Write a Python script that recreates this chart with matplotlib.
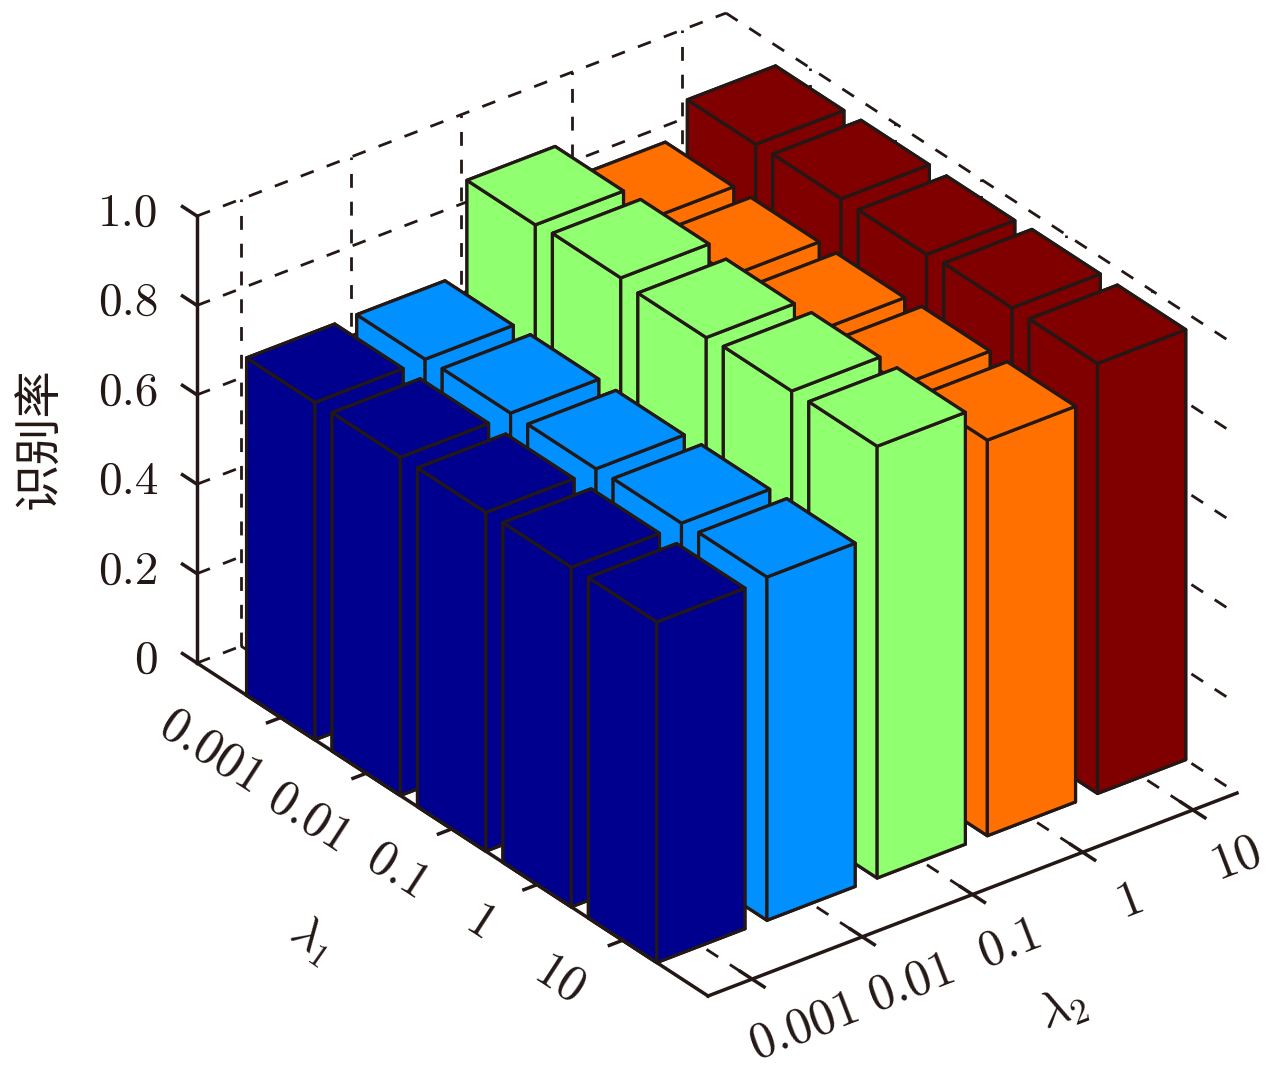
import matplotlib
matplotlib.use("Agg")
import matplotlib.pyplot as plt
from mpl_toolkits.mplot3d import proj3d

plt.rcParams['font.family'] = ['cmr10', 'Noto Sans CJK SC', 'DejaVu Sans']
plt.rcParams['mathtext.fontset'] = 'cm'
plt.rcParams['axes.unicode_minus'] = False

lam_labels = ['0.001', '0.01', '0.1', '1', '10']
z_ticks = [0, 0.2, 0.4, 0.6, 0.8, 1.0]
z_labels = ['0', '0.2', '0.4', '0.6', '0.8', '1.0']

# one list per lambda2, going along lambda1
rate_1 = [0.755, 0.757, 0.758, 0.760, 0.762]
rate_2 = [0.757, 0.761, 0.761, 0.764, 0.768]
rate_3 = [0.963, 0.969, 0.960, 0.965, 0.966]
rate_4 = [0.878, 0.879, 0.879, 0.884, 0.885]
rate_5 = [0.954, 0.957, 0.957, 0.962, 0.962]
rates = [rate_1, rate_2, rate_3, rate_4, rate_5]
colors = ['#00008F', '#0090FF', '#90FF70', '#FF7000', '#800000']

ink = '#231815'
xmin, xmax = 0.02, 6
ymin, ymax = 0.6, 5.4
W, H = 1280, 1087

fig = plt.figure(figsize=(W / 100, H / 100), dpi=100)
ax = fig.add_axes([-0.2, -0.2, 1.4, 1.4], projection='3d')
ax.set_proj_type('ortho')
ax.view_init(elev=30, azim=-37.5)
ax.set_xlim(xmin, xmax, view_margin=0)
ax.set_ylim(ymin, ymax, view_margin=0)
ax.set_zlim(0, 1, view_margin=0)
ax.set_axis_off()
ax.computed_zorder = False

aspect = (836, 664, 514)
ax.set_box_aspect(aspect, zoom=1)


def to_px(x, y, z):
    fig.canvas.draw()
    a, b, _ = proj3d.proj_transform(x, y, z, ax.get_proj())
    return ax.transData.transform((a, b))


# fit the box on the reference corners
p0 = to_px(xmin, ymin, 0)
p1 = to_px(xmax, ymax, 0)
ax.set_box_aspect(aspect, zoom=(1237 - 197) / (p1[0] - p0[0]))
p0 = to_px(xmin, ymin, 0)
pos = ax.get_position(original=True)
ax.set_position([pos.x0 + (197 - p0[0]) / W, pos.y0 + (H - 663 - p0[1]) / H, pos.width, pos.height])

# grid on the back walls and floor
dash = dict(color=ink, lw=2.0, linestyle=(0, (5, 5)), zorder=1)
ticks = range(1, 6)
for t in ticks:
    ax.plot([t, t], [ymin, ymax], [0, 0], **dash)
    ax.plot([t, t], [ymax, ymax], [0, 1], **dash)
    ax.plot([xmin, xmax], [t, t], [0, 0], **dash)
    ax.plot([xmin, xmin], [t, t], [0, 1], **dash)
for z in z_ticks:
    ax.plot([xmin, xmin], [ymin, ymax], [z, z], **dash)
    ax.plot([xmin, xmax], [ymax, ymax], [z, z], **dash)

# bars from back to front so they overlap properly
order = 10
for j in range(4, -1, -1):
    for i in range(5):
        ax.bar3d(i + 0.6, j + 0.6, 0, 0.8, 0.8, rates[j][i], color=colors[j],
                 edgecolor=ink, linewidth=2.3, shade=False, zorder=order)
        order += 1

# axis lines and ticks
solid = dict(color=ink, lw=2.5, zorder=100)
ax.plot([xmin, xmax], [ymin, ymin], [0, 0], **solid)
ax.plot([xmax, xmax], [ymin, ymax], [0, 0], **solid)
ax.plot([xmin, xmin], [ymin, ymin], [0, 1], **solid)
for t in ticks:
    ax.plot([t, t], [ymin - 0.12, ymin], [0, 0], **solid)
    ax.plot([xmax - 0.14, xmax + 0.14], [t, t], [0, 0], **solid)
for z in z_ticks:
    ax.plot([xmin - 0.17, xmin], [ymin, ymin], [z, z], **solid)

# labels, placed in pixels from the projected ticks
x_off = [(-69, 36), (-57, 46), (-54, 44), (-57, 40), (-63, 41)]
y_off = [(53, 47), (50, 46), (38, 49), (48, 48), (44, 48)]
for t, lab, xo, yo in zip(ticks, lam_labels, x_off, y_off):
    p = to_px(t, ymin, 0)
    fig.text((p[0] + xo[0]) / W, (p[1] - xo[1]) / H, lab, fontsize=36, color=ink, rotation=-33,
             rotation_mode='anchor', ha='center', va='center')
    p = to_px(xmax, t, 0)
    fig.text((p[0] + yo[0]) / W, (p[1] - yo[1]) / H, lab, fontsize=36, color=ink, rotation=21,
             rotation_mode='anchor', ha='center', va='center')
for z, lab in zip(z_ticks, z_labels):
    p = to_px(xmin, ymin, z)
    fig.text(158 / W, (p[1] + 2) / H, lab, fontsize=34, color=ink, ha='right', va='center')

fig.text(40 / W, 1 - 438 / H, '识别率', fontsize=34, color=ink, rotation=90,
         ha='center', va='center', family=['Noto Sans CJK SC', 'DejaVu Sans'])
fig.text(312 / W, 1 - 940 / H, r'$\lambda_1$', fontsize=34, color=ink, rotation=-35,
         ha='center', va='center')
fig.text(1062 / W, 1 - 1008 / H, r'$\lambda_2$', fontsize=36, color=ink, rotation=21,
         ha='center', va='center')

fig.savefig('out.png', dpi=100)
